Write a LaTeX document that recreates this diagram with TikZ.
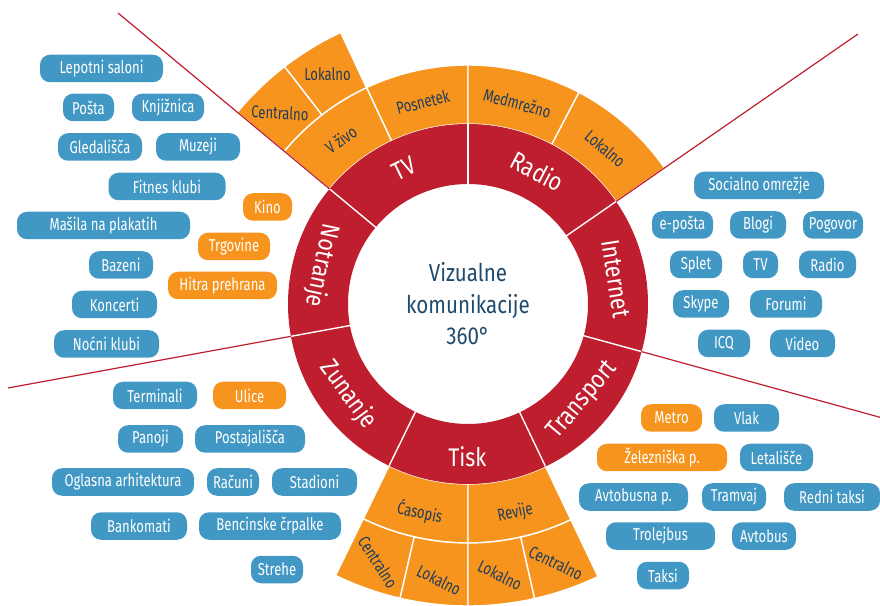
\documentclass[tikz,border=0pt]{standalone}
\usepackage{fontspec}
\setmainfont{Fira Sans}[FakeStretch=0.76]
\newfontfamily\widefont{Fira Sans}[FakeStretch=0.84]
\definecolor{cred}{HTML}{BE1E2D}
\definecolor{corange}{HTML}{F7941D}
\definecolor{cblue}{HTML}{4298C4}
\definecolor{cnavy}{HTML}{1E3D5C}
\definecolor{ccenter}{HTML}{1F4B6E}
\newcommand\annsector[5]{%
  \draw[sepline, fill=#1] (#2:#4) arc[start angle=#2, end angle=#3, radius=#4pt]
    -- (#3:#5) arc[start angle=#3, end angle=#2, radius=#5pt] -- cycle;}
\begin{document}
\begin{tikzpicture}[x=1pt,y=1pt,
  sepline/.style={white, line width=1.4pt},
  redline/.style={cred, line width=1.2pt},
  pill/.style={rounded corners=10pt, minimum height=27.5pt, inner sep=0pt,
     text=white, font=\fontsize{17.2}{19}\selectfont},
  bpill/.style={pill, fill=cblue},
  opill/.style={pill, fill=corange},
  ringlbl/.style={text=white, font=\widefont\fontsize{25.5}{27}\selectfont, inner sep=0pt},
  orlbl/.style={text=cnavy, font=\fontsize{17.2}{19}\selectfont, inner sep=0pt}]
\useasboundingbox (0,0) rectangle (880,605);
\begin{scope}[shift={(468,301)}]
  % orange rings
  \annsector{corange}{90}{115.13}{180}{239}
  \annsector{corange}{115.13}{140.26}{180}{239}
  \annsector{corange}{115.13}{127.7}{239}{300}
  \annsector{corange}{127.7}{140.26}{239}{300}
  \annsector{corange}{34.7}{62.35}{180}{239}
  \annsector{corange}{62.35}{90}{180}{239}
  \annsector{corange}{244}{270}{180}{239}
  \annsector{corange}{270}{295.5}{180}{239}
  \annsector{corange}{244}{257}{239}{302}
  \annsector{corange}{257}{270}{239}{302}
  \annsector{corange}{270}{282.75}{239}{302}
  \annsector{corange}{282.75}{295.5}{239}{302}
  % red ring
  \fill[cred, even odd rule] (0,0) circle[radius=180pt] (0,0) circle[radius=120pt];
  \foreach \a in {90,140.26,190.35,244,295.5,344.66,34.7}
    \draw[sepline] (\a:119) -- (\a:180);
  % long red lines
  \coordinate (ul) at (-350,291);
  \coordinate (ur) at (390,270);
  \coordinate (ll) at (-460,-84);
  \coordinate (lr) at (440,-121);
  \draw[redline] (140.26:180) -- (ul);
  \draw[redline] (34.7:180) -- (ur);
  \draw[redline] (190.35:180) -- (ll);
  \draw[redline] (344.66:180) -- (lr);
  % red ring labels
  \node[ringlbl, rotate=26] (tv) at (115.13:150) {TV};
  \node[ringlbl, rotate=-27.65] (radio) at (62.35:150) {Radio};
  \node[ringlbl, rotate=-81] (internet) at (9.68:150) {Internet};
  \node[ringlbl, rotate=50.08] (transport) at (-39.92:150) {Transport};
  \node[ringlbl, rotate=0] (tisk) at (269.75:153) {Tisk};
  \node[ringlbl, rotate=-53.5] (zunanje) at (217.2:150) {Zunanje};
  \node[ringlbl, rotate=-102] (notranje) at (165.3:151) {Notranje};
  % orange labels
  \node[orlbl, rotate=36] (vzivo) at (127.7:208) {V živo};
  \node[orlbl, rotate=14] (posnetek) at (102.6:207) {Posnetek};
  \node[orlbl, rotate=-15] (medm) at (76.2:207) {Medmrežno};
  \node[orlbl, rotate=-40] (rlok) at (48.5:207) {Lokalno};
  \node[orlbl, rotate=-12] (casopis) at (257:214) {Ćasopis};
  \node[orlbl, rotate=12] (revije) at (282.75:214) {Revije};
  \node[orlbl, text=ccenter, align=center, font=\widefont\fontsize{24.5}{31.5}\selectfont] (center) at (0,0) {Vizualne\\komunikacije\\360°};
\end{scope}
% outer orange labels
\node[orlbl, rotate=-3] (tvcen) at (280,492) {Centralno};
\node[orlbl] (tvlok) at (327.5,531) {Lokalno};
\node[orlbl, rotate=-57] (tcen1) at (378,43) {Centralno};
\node[orlbl, rotate=-27] (tlok1) at (439,25) {Lokalno};
\node[orlbl, rotate=-27] (tlok2) at (500,30) {Lokalno};
\node[orlbl, rotate=-26] (tcen2) at (556,42) {Centralno};
% Notranje pills
\node[bpill, minimum width=123pt] (n1) at (101.5,536.5) {Lepotni saloni};
\node[bpill, minimum width=51pt] (n2) at (88.5,497.5) {Pošta};
\node[bpill, minimum width=72pt] (n3) at (168,497.5) {Knjižnica};
\node[bpill, minimum width=84pt] (n4) at (100,458) {Gledališča};
\node[bpill, minimum width=84pt] (n5) at (198,458) {Muzeji};
\node[bpill, minimum width=117pt] (n6) at (167,418.5) {Fitnes klubi};
\node[opill, minimum width=49pt] (n7) at (267.5,398) {Kino};
\node[bpill, minimum width=173pt] (n8) at (103.5,379.5) {Mašila na plakatih};
\node[opill, minimum width=72pt] (n9) at (234,358.5) {Trgovine};
\node[bpill, minimum width=64pt] (n10) at (121,340) {Bazeni};
\node[opill, minimum width=109pt] (n11) at (222.5,319.5) {Hitra prehrana};
\node[bpill, minimum width=85pt] (n12) at (114.5,300.5) {Koncerti};
\node[bpill, minimum width=105pt] (n13) at (106.5,261) {Noćni klubi};
% Internet pills
\node[bpill, minimum width=130pt] (i1) at (759,419.5) {Socialno omrežje};
\node[bpill, minimum width=61pt] (i2) at (682.5,380) {e-pošta};
\node[bpill, minimum width=56pt] (i3) at (758,380) {Blogi};
\node[bpill, minimum width=60pt] (i4) at (833,380) {Pogovor};
\node[bpill, minimum width=52pt] (i5) at (696,340.5) {Splet};
\node[bpill, minimum width=35pt] (i6) at (760.5,340.5) {TV};
\node[bpill, minimum width=57pt] (i7) at (827.5,340.5) {Radio};
\node[bpill, minimum width=56pt] (i8) at (701,301) {Skype};
\node[bpill, minimum width=72pt] (i9) at (786,301) {Forumi};
\node[bpill, minimum width=52pt] (i10) at (724,261.5) {ICQ};
\node[bpill, minimum width=65pt] (i11) at (802.5,261.5) {Video};
% Zunanje pills
\node[bpill, minimum width=84pt] (z1) at (155,209.5) {Terminali};
\node[opill, minimum width=73pt] (z2) at (249.5,209.5) {Ulice};
\node[bpill, minimum width=65pt] (z3) at (150.5,166) {Panoji};
\node[bpill, minimum width=110pt] (z4) at (250,166) {Postajališča};
\node[bpill, minimum width=142pt] (z5) at (123,123) {Oglasna arhitektura};
\node[bpill, minimum width=52pt] (z6) at (233,123) {Računi};
\node[bpill, minimum width=85pt] (z7) at (314.5,123) {Stadioni};
\node[bpill, minimum width=96pt] (z8) at (139,79) {Bankomati};
\node[bpill, minimum width=142pt] (z9) at (270,79) {Bencinske črpalke};
\node[bpill, minimum width=52pt] (z10) at (277,35.5) {Strehe};
% Transport pills
\node[opill, minimum width=61pt] (t1) at (671.5,187) {Metro};
\node[bpill, minimum width=65pt] (t2) at (746.5,187) {Vlak};
\node[opill, minimum width=130pt] (t3) at (662,147.5) {Železniška p.};
\node[bpill, minimum width=73pt] (t4) at (776.5,147.5) {Letališče};
\node[bpill, minimum width=109pt] (t5) at (633.5,108) {Avtobusna p.};
\node[bpill, minimum width=64pt] (t6) at (734,108) {Tramvaj};
\node[bpill, minimum width=96pt] (t7) at (832,108) {Redni taksi};
\node[bpill, minimum width=109pt] (t8) at (660.5,69) {Trolejbus};
\node[bpill, minimum width=64pt] (t9) at (764,69) {Avtobus};
\node[bpill, minimum width=52pt] (t10) at (663,29.5) {Taksi};
\end{tikzpicture}
\end{document}
